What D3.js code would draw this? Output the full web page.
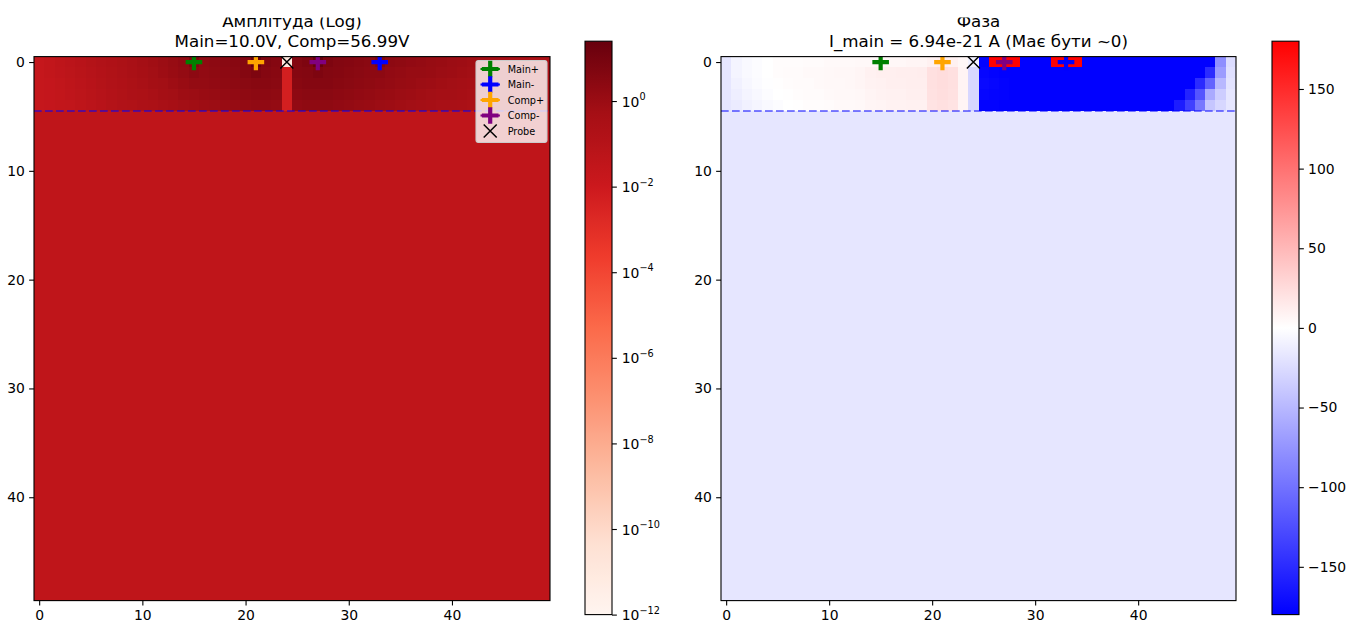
<!DOCTYPE html>
<html><head><meta charset="utf-8">
<script src="https://cdn.jsdelivr.net/npm/d3@7"></script>
<style>
html,body{margin:0;padding:0;background:#fff;}
svg{display:block;font-family:"DejaVu Sans",sans-serif;}
</style></head><body>
<svg id="fig" width="1360" height="623"></svg>
<script>
// ---- grid (50 x 50 cells) ----
const nCols = 50, nRows = 50;
const surfaceRows = 5; // rows 0..4 resolved individually, rows below are the uniform bulk

// |V| amplitude in volts, surface rows 0..4, columns 0..49
const ampRow0 = [0.020,0.027,0.043,0.058,0.079, 0.11,0.15,0.20,0.27,0.37, 0.51,0.69,0.94,1.3,1.75, 5.2,2.05,2.4,2.8,3.3, 4.4,25,5.2,3.8,1e-11, 4.4,6.1,25,6.1,4.4, 3.8,3.3,2.8,5.2,2.4, 2.05,1.75,1.5,1.3,1.1, 0.94,0.81,0.69,0.59,0.51, 0.44,0.37,0.32,0.27,0.23];
const ampRow1 = [0.020,0.027,0.037,0.050,0.068, 0.092,0.13,0.17,0.23,0.32, 0.44,0.59,0.81,1.1,1.5, 2.4,1.75,2.05,2.4,2.8, 3.8,6.1,3.8,3.3,0.0049, 3.8,4.4,6.1,4.4,3.8, 3.3,2.8,2.4,2.4,1.75, 1.5,1.3,1.3,1.1,0.94, 0.81,0.69,0.59,0.51,0.44, 0.37,0.32,0.27,0.23,0.20];
const ampRow2 = [0.020,0.023,0.031,0.043,0.058, 0.079,0.11,0.15,0.20,0.27, 0.37,0.51,0.59,0.81,1.1, 1.5,1.5,1.75,2.05,2.4, 2.8,3.3,3.3,2.8,0.0049, 3.3,3.8,3.8,3.8,3.3, 2.8,2.4,2.05,1.75,1.5, 1.3,1.1,0.94,0.81,0.69, 0.59,0.51,0.44,0.44,0.37, 0.32,0.27,0.23,0.20,0.17];
const ampRow3 = [0.020,0.023,0.027,0.037,0.050, 0.068,0.092,0.13,0.17,0.23, 0.27,0.37,0.51,0.59,0.81, 0.94,1.1,1.3,1.5,1.75, 2.05,2.4,2.4,2.05,0.0049, 2.4,2.8,2.8,2.8,2.4, 2.05,1.75,1.5,1.3,1.1, 0.94,0.81,0.69,0.59,0.51, 0.51,0.44,0.37,0.32,0.27, 0.27,0.23,0.20,0.17,0.15];
const ampRow4 = [0.020,0.023,0.027,0.031,0.043, 0.058,0.079,0.11,0.15,0.17, 0.23,0.27,0.37,0.44,0.59, 0.69,0.81,0.94,1.1,1.3, 1.5,1.75,1.75,1.5,0.0049, 1.75,2.05,2.05,2.05,1.75, 1.5,1.3,1.1,0.94,0.81, 0.69,0.59,0.51,0.44,0.37, 0.37,0.32,0.27,0.23,0.23, 0.20,0.17,0.15,0.13,0.11];
const ampBulk = 0.038;
const ampMin = 1e-12, ampMax = 25;

// phase in degrees, surface rows 0..4
const phaseRow0 = [-18,-8,-4,-2,0, 2,2,2,3,3, 4,4,4,5,5, 6,6,6,7,7, 10,12,10,6,-10, -178,179,179,179,-179, -179,-179,179,179,179, -179,-179,-179,-179,-179, -179,-179,-179,-179,-179, -179,-179,-179,-80,-25];
const phaseRow1 = [-18,-8,-4,-2,0, 2,3,3,4,4, 5,6,6,7,10, 11,11,12,12,13, 22,24,22,8,-28, -176,-178,-179,-179,-179, -179,-179,-179,-179,-179, -179,-179,-179,-179,-179, -179,-179,-179,-179,-179, -179,-179,-150,-70,-22];
const phaseRow2 = [-18,-10,-6,-3,-1, 1,2,3,3,4, 5,5,6,7,9, 10,11,11,12,12, 22,24,22,8,-28, -174,-176,-178,-179,-179, -179,-179,-179,-179,-179, -179,-179,-179,-179,-179, -179,-179,-179,-179,-179, -179,-150,-110,-50,-20];
const phaseRow3 = [-18,-12,-8,-5,-2, 0,1,2,3,3, 4,5,5,6,8, 9,10,10,11,11, 21,23,21,8,-28, -176,-177,-178,-179,-179, -179,-179,-179,-179,-179, -179,-179,-179,-179,-179, -179,-179,-179,-179,-179, -155,-120,-60,-35,-18];
const phaseRow4 = [-18,-14,-10,-7,-4, -2,0,1,2,2, 3,4,4,5,7, 8,9,9,10,10, 20,22,20,7,-28, -178,-178,-179,-179,-179, -179,-179,-179,-179,-179, -179,-179,-179,-179,-179, -179,-179,-179,-179,-160, -135,-95,-40,-28,-18];
const phaseBulk = -18;
const phaseMin = -180, phaseMax = 180;

// electrodes and probe (column on row 0)
const electrodeNames  = ["Main+", "Main-", "Comp+", "Comp-"];
const electrodeCols   = [15, 33, 21, 27];
const electrodeColors = ["green", "blue", "orange", "purple"];
const probeName = "Probe", probeCol = 24;
const interfaceLevel = 4.5;

// ticks and titles
const gridTicks  = [0, 10, 20, 30, 40];
const ampTicks   = [1e-12, 1e-10, 1e-8, 1e-6, 1e-4, 1e-2, 1];
const phaseTicks = [-150, -100, -50, 0, 50, 100, 150];
const ampTitle   = ["Амплітуда (Log)", "Main=10.0V, Comp=56.99V"];
const phaseTitle = ["Фаза", "I_main = 6.94e-21 A (Має бути ~0)"];

// ---- colour maps ----
const redsStops = ["#fff5f0","#fee0d2","#fcbba1","#fc9272","#fb6a4a","#ef3b2c","#cb181d","#a50f15","#67000d"];
const reds = d3.scaleLinear().domain(redsStops.map((_, i) => i / 8)).range(redsStops).clamp(true);
const ampNorm = d3.scaleLog().domain([ampMin, ampMax]).range([0, 1]).clamp(true);
const ampColor = v => reds(ampNorm(v));
const bwr = d3.scaleLinear().domain([phaseMin, 0, phaseMax]).range(["#0000ff", "#ffffff", "#ff0000"]).clamp(true);

const ampRows = [ampRow0, ampRow1, ampRow2, ampRow3, ampRow4];
const phaseRows = [phaseRow0, phaseRow1, phaseRow2, phaseRow3, phaseRow4];
function gridCells(rows, bulk) {
  const out = [];
  for (let r = 0; r < nRows; r++)
    for (let c = 0; c < nCols; c++)
      out.push({ r, c, v: r < surfaceRows ? rows[r][c] : bulk });
  return out;
}

// ---- layout ----
const svg = d3.select("#fig");
svg.append("rect").attr("width", 1360).attr("height", 623).attr("fill", "#fff");
const axTop = 56.6, axBottom = 600.6;
const panels = [
  { x0: 34,  x1: 550,  cells: gridCells(ampRows, ampBulk), color: ampColor, title: ampTitle, legend: true,
    cb: { x0: 585, x1: 612 } },
  { x0: 721, x1: 1236, cells: gridCells(phaseRows, phaseBulk), color: bwr, title: phaseTitle, legend: false,
    cb: { x0: 1272, x1: 1299 } }
];
const cbTop = 41.2, cbBottom = 614.6;
const tickFont = 13.9;
const defs = svg.append("defs");

panels.forEach((p, pi) => {
  const x = d3.scaleLinear().domain([-0.5, nCols - 0.5]).range([p.x0, p.x1]);
  const y = d3.scaleLinear().domain([-0.5, nRows - 0.5]).range([axTop, axBottom]);
  const clipId = "clip" + pi;
  defs.append("clipPath").attr("id", clipId).append("rect")
    .attr("x", p.x0).attr("y", axTop).attr("width", p.x1 - p.x0).attr("height", axBottom - axTop);

  const g = svg.append("g");
  // cells
  g.append("g").attr("shape-rendering", "crispEdges").selectAll("rect").data(p.cells).join("rect")
    .attr("x", d => x(d.c - 0.5)).attr("y", d => y(d.r - 0.5))
    .attr("width", d => x(d.c + 0.5) - x(d.c - 0.5) + 0.4)
    .attr("height", d => y(d.r + 0.5) - y(d.r - 0.5) + 0.4)
    .attr("fill", d => p.color(d.v));

  const marks = g.append("g").attr("clip-path", `url(#${clipId})`);
  // interface between surface layer and bulk
  marks.append("line")
    .attr("x1", p.x0).attr("x2", p.x1).attr("y1", y(interfaceLevel)).attr("y2", y(interfaceLevel))
    .attr("stroke", "blue").attr("stroke-opacity", 0.5).attr("stroke-width", 2.08)
    .attr("stroke-dasharray", "7.7,3.3");
  // electrodes
  marks.selectAll("path.el").data(electrodeCols).join("path").attr("class", "el")
    .attr("transform", d => `translate(${x(d)},${y(0)})`)
    .attr("d", "M-8.3,0H8.3M0,-8.3V8.3")
    .attr("stroke", (d, i) => electrodeColors[i]).attr("stroke-width", 4.2).attr("fill", "none");
  // probe
  marks.append("path")
    .attr("transform", `translate(${x(probeCol)},${y(0)})`)
    .attr("d", "M-6.5,-6.5L6.5,6.5M-6.5,6.5L6.5,-6.5")
    .attr("stroke", "black").attr("stroke-width", 1.5).attr("fill", "none");

  // axes
  const ax = d3.axisBottom(x).tickValues(gridTicks).tickSize(4.86).tickPadding(4.2).tickFormat(d3.format("d"));
  const ay = d3.axisLeft(y).tickValues(gridTicks).tickSize(4.86).tickPadding(4.2).tickFormat(d3.format("d"));
  const gx = svg.append("g").attr("transform", `translate(0,${axBottom})`).call(ax);
  const gy = svg.append("g").attr("transform", `translate(${p.x0},0)`).call(ay);
  [gx, gy].forEach(a => {
    a.select(".domain").remove();
    a.selectAll(".tick line").attr("stroke", "#000").attr("stroke-width", 1.1);
    a.selectAll(".tick text").attr("font-size", tickFont).attr("fill", "#000").attr("font-family", "DejaVu Sans");
  });
  svg.append("rect").attr("x", p.x0).attr("y", axTop).attr("width", p.x1 - p.x0).attr("height", axBottom - axTop)
    .attr("fill", "none").attr("stroke", "#000").attr("stroke-width", 1.1);

  // title (two lines), top line partly cut off
  const tclip = "tclip" + pi;
  defs.append("clipPath").attr("id", tclip).append("rect").attr("x", 0).attr("y", 17.5).attr("width", 1360).attr("height", 700);
  const cx = (p.x0 + p.x1) / 2;
  const tg = svg.append("g").attr("clip-path", `url(#${tclip})`);
  p.title.forEach((t, i) => {
    tg.append("text").attr("x", cx).attr("y", 27 + i * 20).attr("text-anchor", "middle")
      .attr("font-size", 16.7).attr("fill", "#000").text(t);
  });

  // colour bar
  const cb = p.cb;
  const gradId = "grad" + pi;
  const grad = defs.append("linearGradient").attr("id", gradId)
    .attr("x1", 0).attr("y1", 1).attr("x2", 0).attr("y2", 0);
  d3.range(0, 1.0001, 1 / 64).forEach(t => {
    const col = pi === 0 ? reds(t) : bwr(phaseMin + t * (phaseMax - phaseMin));
    grad.append("stop").attr("offset", t).attr("stop-color", col);
  });
  svg.append("rect").attr("x", cb.x0).attr("y", cbTop).attr("width", cb.x1 - cb.x0).attr("height", cbBottom - cbTop)
    .attr("fill", `url(#${gradId})`).attr("stroke", "#000").attr("stroke-width", 1.1);

  if (pi === 0) {
    const cy = d3.scaleLog().domain([ampMin, ampMax]).range([cbBottom, cbTop]);
    const gc = svg.append("g").attr("transform", `translate(${cb.x1},0)`)
      .call(d3.axisRight(cy).tickValues(ampTicks).tickSize(4.86).tickFormat(""));
    gc.select(".domain").remove();
    gc.selectAll(".tick line").attr("stroke", "#000").attr("stroke-width", 1.1);
    ampTicks.forEach(v => {
      const e = Math.round(Math.log10(v));
      const t = svg.append("text").attr("x", cb.x1 + 9.7).attr("y", cy(v) + 5.6).attr("font-size", tickFont).attr("fill", "#000");
      t.append("tspan").text("10");
      t.append("tspan").attr("dy", -6.5).attr("font-size", 9.7).text(e < 0 ? "\u2212" + (-e) : String(e));
    });
  } else {
    const cy = d3.scaleLinear().domain([phaseMin, phaseMax]).range([cbBottom, cbTop]);
    const gc = svg.append("g").attr("transform", `translate(${cb.x1},0)`)
      .call(d3.axisRight(cy).tickValues(phaseTicks).tickSize(4.86).tickPadding(4.2)
        .tickFormat(d => d < 0 ? "\u2212" + (-d) : String(d)));
    gc.select(".domain").remove();
    gc.selectAll(".tick line").attr("stroke", "#000").attr("stroke-width", 1.1);
    gc.selectAll(".tick text").attr("font-size", tickFont).attr("fill", "#000").attr("font-family", "DejaVu Sans");
  }

  // legend (amplitude panel only)
  if (p.legend) {
    const lx = 476, ly = 60.5, lw = 71, lh = 82;
    const lg = svg.append("g");
    lg.append("rect").attr("x", lx).attr("y", ly).attr("width", lw).attr("height", lh).attr("rx", 2.5)
      .attr("fill", "#fff").attr("fill-opacity", 0.8).attr("stroke", "#cccccc").attr("stroke-width", 1.1);
    const rowY = i => 69 + i * 15.5;
    electrodeNames.forEach((name, i) => {
      const yy = rowY(i);
      lg.append("line").attr("x1", 480.5).attr("x2", 499.9).attr("y1", yy).attr("y2", yy)
        .attr("stroke", electrodeColors[i]).attr("stroke-width", 2.08);
      lg.append("path").attr("transform", `translate(490.2,${yy})`).attr("d", "M-8.3,0H8.3M0,-8.3V8.3")
        .attr("stroke", electrodeColors[i]).attr("stroke-width", 4.2).attr("fill", "none");
      lg.append("text").attr("x", 507.7).attr("y", yy + 3.5).attr("font-size", 9.7).attr("fill", "#000").text(name);
    });
    const py = rowY(4);
    lg.append("path").attr("transform", `translate(490.2,${py})`).attr("d", "M-6.5,-6.5L6.5,6.5M-6.5,6.5L6.5,-6.5")
      .attr("stroke", "black").attr("stroke-width", 1.5).attr("fill", "none");
    lg.append("text").attr("x", 507.7).attr("y", py + 3.5).attr("font-size", 9.7).attr("fill", "#000").text(probeName);
  }
});
</script>
</body></html>
